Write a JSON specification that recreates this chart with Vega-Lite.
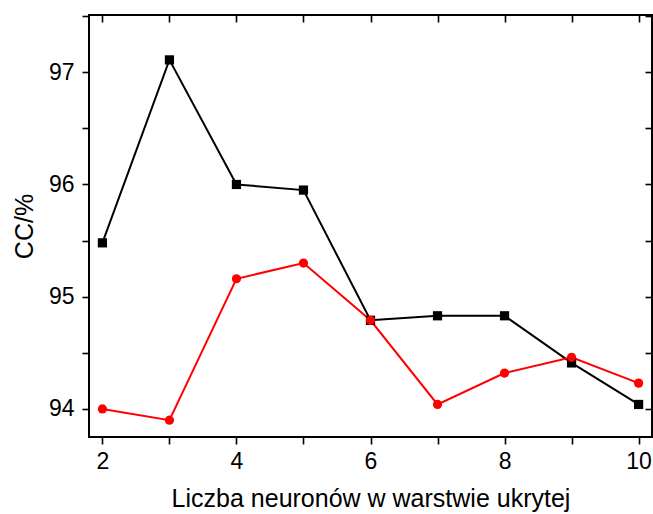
{
  "$schema": "https://vega.github.io/schema/vega-lite/v6.json",
  "autosize": {"type": "none"},
  "padding": {"left": 89, "top": 15, "right": 1, "bottom": 77},
  "width": 563,
  "height": 422,
  "background": "white",
  "config": {
    "view": {"stroke": "black", "strokeWidth": 2},
    "font": "Liberation Sans",
    "axis": {"grid": false, "domain": false, "tickColor": "black", "tickWidth": 1.6}
  },
  "data": {
    "values": [
      {"n": 2, "cc": 95.48, "series": "Surowe dane"},
      {"n": 3, "cc": 97.11, "series": "Surowe dane"},
      {"n": 4, "cc": 96.0, "series": "Surowe dane"},
      {"n": 5, "cc": 95.95, "series": "Surowe dane"},
      {"n": 6, "cc": 94.79, "series": "Surowe dane"},
      {"n": 7, "cc": 94.83, "series": "Surowe dane"},
      {"n": 8, "cc": 94.83, "series": "Surowe dane"},
      {"n": 9, "cc": 94.41, "series": "Surowe dane"},
      {"n": 10, "cc": 94.04, "series": "Surowe dane"},
      {"n": 2, "cc": 94.0, "series": "Dane autoskalowane"},
      {"n": 3, "cc": 93.9, "series": "Dane autoskalowane"},
      {"n": 4, "cc": 95.16, "series": "Dane autoskalowane"},
      {"n": 5, "cc": 95.3, "series": "Dane autoskalowane"},
      {"n": 6, "cc": 94.79, "series": "Dane autoskalowane"},
      {"n": 7, "cc": 94.04, "series": "Dane autoskalowane"},
      {"n": 8, "cc": 94.32, "series": "Dane autoskalowane"},
      {"n": 9, "cc": 94.46, "series": "Dane autoskalowane"},
      {"n": 10, "cc": 94.23, "series": "Dane autoskalowane"}
    ]
  },
  "layer": [
    {
      "mark": {"type": "line", "strokeWidth": 2},
      "encoding": {
        "x": {
          "field": "n", "type": "quantitative",
          "scale": {"domain": [1.8, 10.2], "nice": false, "zero": false},
          "axis": {
            "orient": "bottom",
            "tickCount": 8,
            "tickSize": 7,
            "labelExpr": "datum.value % 2 === 0 ? format(datum.value, 'd') : ''",
            "labelPadding": 6,
            "labelFontSize": 23,
            "labelColor": "black",
            "title": "Liczba neuronów w warstwie ukrytej",
            "titleFontSize": 25,
            "titleFontWeight": "normal",
            "titleColor": "black",
            "titlePadding": 13
          }
        },
        "y": {
          "field": "cc", "type": "quantitative",
          "scale": {"domain": [93.75, 97.51], "nice": false, "zero": false},
          "axis": {
            "orient": "left",
            "tickSize": 7,
            "labelExpr": "datum.value % 1 === 0 ? format(datum.value, 'd') : ''",
            "labelPadding": 8,
            "labelFontSize": 23,
            "labelColor": "black",
            "title": "CC/%",
            "titleFontSize": 25,
            "titleFontWeight": "normal",
            "titleColor": "black",
            "titlePadding": 11
          }
        },
        "color": {
          "field": "series", "type": "nominal",
          "scale": {"domain": ["Surowe dane", "Dane autoskalowane"], "range": ["black", "red"]},
          "legend": null
        }
      }
    },
    {
      "mark": {"type": "point", "filled": true, "opacity": 1, "size": 85},
      "encoding": {
        "x": {
          "field": "n", "type": "quantitative",
          "axis": {"orient": "top", "tickCount": 8, "tickSize": -7, "labels": false, "title": null}
        },
        "y": {
          "field": "cc", "type": "quantitative",
          "axis": {"orient": "right", "tickSize": -7, "labels": false, "title": null}
        },
        "color": {
          "field": "series", "type": "nominal",
          "legend": {
            "title": null,
            "orient": "top-right",
            "offset": 15,
            "padding": 0,
            "labelFontSize": 23,
            "labelColor": "black",
            "labelOffset": 10,
            "rowPadding": 6,
            "symbolSize": 100
          }
        },
        "shape": {
          "field": "series", "type": "nominal",
          "scale": {"domain": ["Surowe dane", "Dane autoskalowane"], "range": ["square", "circle"]},
          "legend": {
            "title": null,
            "orient": "top-right",
            "offset": 15,
            "padding": 0,
            "labelFontSize": 23,
            "labelColor": "black",
            "labelOffset": 10,
            "rowPadding": 6,
            "symbolSize": 100
          }
        }
      }
    }
  ]
}
